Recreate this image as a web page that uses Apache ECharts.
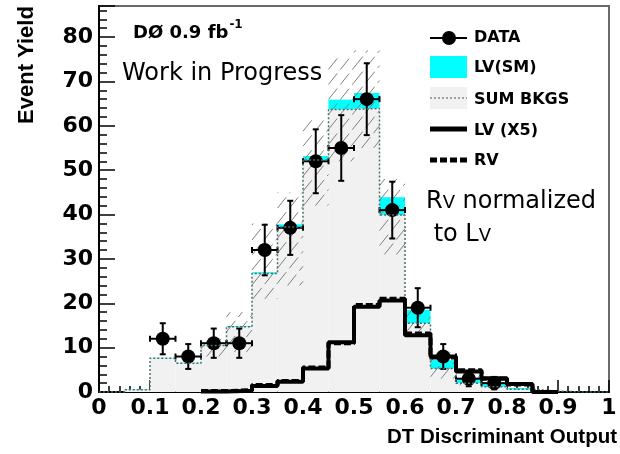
<!DOCTYPE html>
<html><head><meta charset="utf-8">
<script src="https://cdn.jsdelivr.net/npm/echarts@6/dist/echarts.min.js"></script>
<style>html,body{margin:0;padding:0;background:#fff}#c{width:620px;height:454px}</style>
</head><body><div id="c"></div>
<script>
// ---- data ----
const binLo = [0.00,0.05,0.10,0.15,0.20,0.25,0.30,0.35,0.40,0.45,0.50,0.55,0.60,0.65,0.70,0.75,0.80,0.85,0.90,0.95];
const binHi = [0.05,0.10,0.15,0.20,0.25,0.30,0.35,0.40,0.45,0.50,0.55,0.60,0.65,0.70,0.75,0.80,0.85,0.90,0.95,1.00];
const sumBkgs = [0,0.5,7.6,6.5,10.5,14.7,26.7,37.2,52.3,63.7,63.9,39.9,15.5,5.3,2.0,1.2,0.6,0.2,0,0];
const lvSM    = [0,0.1,0.1,0.1,0.1,0.2,0.3,0.6,0.9,2.2,3.5,4.0,3.0,1.9,1.1,0.8,0.3,0.1,0,0];
const lvX5    = [null,null,null,null,0.1,0.3,1.35,2.3,5.3,11.2,19.2,20.6,12.8,8.0,4.6,3.1,1.8,0,null,null];
const rvNorm  = [null,null,null,null,0.2,0.4,1.6,2.5,5.5,11.0,19.6,21.0,13.2,7.8,4.9,3.0,1.7,0,null,null];
const systLo  = [null,null,null,null,8,9,21,24,42,52,55,31,13,3,1.5,null,null,null,null,null];
const systHi  = [null,null,null,null,12,18,38,45,62,76,77,48,19,9,4,null,null,null,null,null];
const dataX   = [0.125,0.175,0.225,0.275,0.325,0.375,0.425,0.475,0.525,0.575,0.625,0.675,0.725,0.775];
const dataY   = [12,8,11,11,32,37,52,55,66,41,19,8,3,2];
const dataErr = [3.5,2.8,3.3,3.3,5.7,6.1,7.2,7.4,8.1,6.4,4.4,2.8,1.7,1.4];
const xTicks  = ['0','0.1','0.2','0.3','0.4','0.5','0.6','0.7','0.8','0.9','1'];
const yTicks  = ['0','10','20','30','40','50','60','70','80'];

const BOLD = 'DejaVu Sans';
const chart = echarts.init(document.getElementById('c'), null, {renderer:'canvas'});

function rectItem(fill) {
  return function(params, api) {
    const a = api.coord([api.value(0), api.value(3)]);
    const b = api.coord([api.value(1), api.value(2)]);
    if (!(api.value(3) > api.value(2))) return;
    return {type:'rect', shape:{x:a[0], y:a[1], width:b[0]-a[0], height:b[1]-a[1]}, style:{fill:fill}};
  };
}
function hatchItem(params, api) {
  const lo = api.value(2), hi = api.value(3);
  if (!(hi > lo)) return;
  const a = api.coord([api.value(0), hi]), b = api.coord([api.value(1), lo]);
  const xa = a[0], xb = b[0], ya = a[1], yb = b[1];
  const k = 1.25, s = 15;
  const ch = [];
  for (let c = Math.ceil((ya + k*xa)/s)*s; c <= yb + k*xb; c += s) {
    const xs = Math.max(xa, (c - yb)/k), xe = Math.min(xb, (c - ya)/k);
    if (xe > xs) ch.push({type:'line', shape:{x1:xs, y1:c-k*xs, x2:xe, y2:c-k*xe}, style:{stroke:'#808080', lineWidth:1, lineDash:[14,5]}});
  }
  return {type:'group', children:ch};
}
function errItem(params, api) {
  const x = api.value(0), y = api.value(1), e = api.value(2);
  const t = api.coord([x, y+e]), bo = api.coord([x, y-e]);
  const l = api.coord([x-0.025, y]), r = api.coord([x+0.025, y]);
  const st = {stroke:'#000', lineWidth:2};
  return {type:'group', children:[
    {type:'line', shape:{x1:t[0], y1:t[1], x2:bo[0], y2:bo[1]}, style:st},
    {type:'line', shape:{x1:t[0]-3, y1:t[1], x2:t[0]+3, y2:t[1]}, style:st},
    {type:'line', shape:{x1:bo[0]-3, y1:bo[1], x2:bo[0]+3, y2:bo[1]}, style:st},
    {type:'line', shape:{x1:l[0], y1:l[1], x2:r[0], y2:r[1]}, style:st},
    {type:'line', shape:{x1:l[0], y1:l[1]-3, x2:l[0], y2:l[1]+3}, style:st},
    {type:'line', shape:{x1:r[0], y1:r[1]-3, x2:r[0], y2:r[1]+3}, style:st}
  ]};
}
function stepData(vals) {
  const out = [];
  let last = null;
  vals.forEach((v,i) => { if (v !== null) { out.push([binLo[i], v]); last = i; } });
  if (last !== null) out.push([binHi[last], 0]);
  return out;
}
const bkgData = binLo.map((x,i)=>[x, binHi[i], 0, sumBkgs[i]]);
const sigData = binLo.map((x,i)=>[x, binHi[i], sumBkgs[i], sumBkgs[i]+lvSM[i]]);
const systData = binLo.map((x,i)=>[x, binHi[i], systLo[i]===null?0:systLo[i], systHi[i]===null?0:systHi[i]]);

// measure for superscript placement
const cv = document.createElement('canvas').getContext('2d');
cv.font = 'bold 18px "DejaVu Sans"';
const d0w = cv.measureText('DØ 0.9 fb').width;

const lblStyle = {fontFamily:BOLD, fontWeight:'bold', fontSize:16, fill:'#000', verticalAlign:'middle', align:'left'};
const richRV = {n:{fontFamily:'DejaVu Sans', fontSize:24, verticalAlign:'bottom', fill:'#000'},
                v:{fontFamily:'DejaVu Sans', fontSize:18, verticalAlign:'bottom', fill:'#000', padding:[0,0,2,0]}};

chart.setOption({
  animation:false,
  grid:{left:99, right:5, top:6, bottom:62, show:true, borderColor:'#6a6a6a', borderWidth:2, backgroundColor:'transparent'},
  xAxis:{type:'value', min:0, max:1, interval:0.1,
    name:'DT Discriminant Output', nameLocation:'end', nameGap:8,
    nameTextStyle:{fontFamily:'Liberation Sans', fontWeight:'bold', fontSize:20.5, color:'#000', align:'right', verticalAlign:'top', padding:[35,0,0,0]},
    axisLine:{lineStyle:{color:'#000', width:2}},
    axisTick:{inside:true, length:12, lineStyle:{color:'#000', width:1.5}},
    minorTick:{show:true, splitNumber:5, length:6, lineStyle:{color:'#000', width:1.5}},
    splitLine:{show:false},
    axisLabel:{margin:5, fontFamily:BOLD, fontWeight:'bold', fontSize:22, color:'#000',
      formatter:(v)=>{const i=Math.round(v*10); return Math.abs(v*10-i)<1e-6 ? xTicks[i] : '';}}
  },
  yAxis:[{type:'value', min:0, max:87, interval:10,
    axisLine:{show:true, lineStyle:{color:'#000', width:2}},
    axisTick:{inside:true, length:16, lineStyle:{color:'#000', width:1.5}},
    splitLine:{show:false},
    axisLabel:{margin:6, fontFamily:BOLD, fontWeight:'bold', fontSize:22, color:'#000',
      formatter:(v)=>{const i=Math.round(v/10); return (Math.abs(v-i*10)<1e-6 && i<yTicks.length) ? yTicks[i] : '';}}
  },{type:'value', min:0, max:87, interval:2, position:'left',
    axisLine:{show:false}, axisLabel:{show:false}, splitLine:{show:false},
    axisTick:{inside:true, length:8, lineStyle:{color:'#000', width:1.5}}
  }],
  series:[
    {type:'custom', name:'SUM BKGS fill', data:bkgData, encode:{x:[0,1], y:[2,3]}, renderItem:rectItem('#f1f1f1'), clip:true},
    {type:'custom', name:'LV(SM)', data:sigData, encode:{x:[0,1], y:[2,3]}, renderItem:rectItem('#00ffff'), clip:true},
    {type:'line', name:'SUM BKGS', data:stepData(sumBkgs), step:'end', symbol:'none', lineStyle:{color:'#4f6e6e', width:1.5, type:[2,2]}},
    {type:'custom', name:'syst', data:systData, encode:{x:[0,1], y:[2,3]}, renderItem:hatchItem, clip:true},
    {type:'line', name:'RV', data:stepData(rvNorm), step:'end', symbol:'none', lineStyle:{color:'#000', width:4, type:[7,3]}},
    {type:'line', name:'LV (X5)', data:stepData(lvX5), step:'end', symbol:'none', lineStyle:{color:'#000', width:4}},
    {type:'custom', name:'DATA err', data:dataX.map((x,i)=>[x, dataY[i], dataErr[i]]), encode:{x:0, y:1}, renderItem:errItem},
    {type:'scatter', name:'DATA', data:dataX.map((x,i)=>[x, dataY[i]]), symbol:'circle', symbolSize:14, itemStyle:{color:'#000', opacity:1}}
  ],
  graphic:[
    {type:'text', x:27, y:65, rotation:Math.PI/2, style:{text:'Event Yield', fontFamily:'Liberation Sans', fontWeight:'bold', fontSize:22, fill:'#000', align:'center', verticalAlign:'middle'}},
    {type:'text', x:133, y:33, style:{text:'DØ 0.9 fb', fontFamily:BOLD, fontWeight:'bold', fontSize:18, fill:'#000', verticalAlign:'middle'}},
    {type:'text', x:133+d0w+1, y:25, style:{text:'-1', fontFamily:BOLD, fontWeight:'bold', fontSize:12, fill:'#000', verticalAlign:'middle'}},
    {type:'text', x:122, y:74, style:{text:'Work in Progress', fontFamily:'DejaVu Sans', fontSize:24, fill:'#000', verticalAlign:'middle'}},
    {type:'text', x:426, y:202, style:{text:'{n|R}{v|V}{n| normalized}', fill:'#000', verticalAlign:'middle', rich:richRV}},
    {type:'text', x:426, y:235, style:{text:'{n| to L}{v|V}', fill:'#000', verticalAlign:'middle', rich:richRV}},
    // legend
    {type:'line', shape:{x1:430, y1:38, x2:467, y2:38}, style:{stroke:'#000', lineWidth:2}},
    {type:'circle', shape:{cx:449, cy:38, r:7}, style:{fill:'#000'}},
    {type:'text', x:474, y:38, style:Object.assign({text:'DATA'}, lblStyle)},
    {type:'rect', shape:{x:430, y:56, width:37, height:22}, style:{fill:'#00ffff'}},
    {type:'text', x:474, y:68, style:Object.assign({text:'LV(SM)'}, lblStyle)},
    {type:'rect', shape:{x:430, y:87, width:37, height:22}, style:{fill:'#f1f1f1'}},
    {type:'line', shape:{x1:430, y1:98, x2:467, y2:98}, style:{stroke:'#555', lineWidth:1, lineDash:[2,2]}},
    {type:'text', x:474, y:100, style:Object.assign({text:'SUM BKGS'}, lblStyle)},
    {type:'line', shape:{x1:430, y1:129, x2:467, y2:129}, style:{stroke:'#000', lineWidth:5}},
    {type:'text', x:474, y:131, style:Object.assign({text:'LV (X5)'}, lblStyle)},
    {type:'line', shape:{x1:430, y1:160, x2:467, y2:160}, style:{stroke:'#000', lineWidth:5, lineDash:[7,3]}},
    {type:'text', x:474, y:161, style:Object.assign({text:'RV'}, lblStyle)}
  ]
});
</script></body></html>
